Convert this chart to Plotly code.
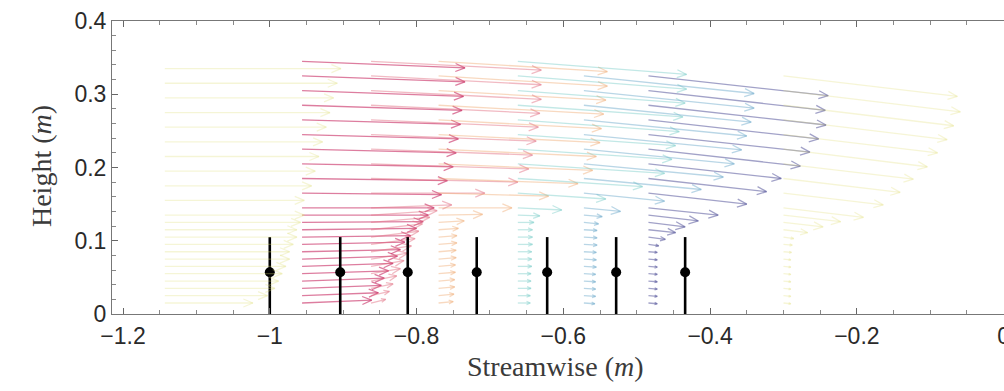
import math
import plotly.graph_objects as go

# Measurement heights of the velocity rakes (m)
heights = [0.015, 0.025, 0.035, 0.045, 0.055, 0.065, 0.075, 0.085, 0.095, 0.105,
           0.115, 0.125, 0.135, 0.145, 0.165, 0.185, 0.205, 0.225, 0.245, 0.265,
           0.285, 0.305, 0.325, 0.345]
heights_upstream = [0.015, 0.025, 0.035, 0.045, 0.055, 0.065, 0.075, 0.085, 0.095,
                    0.105, 0.115, 0.125, 0.135, 0.155, 0.175, 0.195, 0.215, 0.235,
                    0.255, 0.275, 0.295, 0.315, 0.335]

# Streamwise position of each rake (m)
rake_x = [-1.143, -0.956, -0.862, -0.770, -0.662, -0.572, -0.484, -0.300]

# Scaled velocity components (u: streamwise, v: vertical) per rake
u_r0 = [0.12, 0.14, 0.15, 0.155, 0.16, 0.165, 0.17, 0.17, 0.175, 0.18, 0.18, 0.185,
        0.19, 0.19, 0.2, 0.205, 0.21, 0.215, 0.22, 0.225, 0.23, 0.235, 0.24]
v_r0 = [0.0] * 23

u_r1 = [0.095, 0.104, 0.108, 0.112, 0.118, 0.124, 0.13, 0.134, 0.14, 0.148, 0.156,
        0.165, 0.172, 0.18, 0.19, 0.198, 0.206, 0.21, 0.213, 0.216, 0.218, 0.22,
        0.222, 0.222]
v_r1 = [0.004, 0.004, 0.004, 0.004, 0.004, 0.004, 0.004, 0.003, 0.003, 0.002, 0.002,
        0.001, 0.0, 0.0, -0.002, -0.003, -0.004, -0.005, -0.006, -0.006, -0.007,
        -0.008, -0.008, -0.009]

u_r2 = [0.02, 0.025, 0.03, 0.035, 0.04, 0.045, 0.05, 0.055, 0.06, 0.065, 0.07, 0.08,
        0.09, 0.11, 0.155, 0.2, 0.215, 0.22, 0.225, 0.228, 0.23, 0.232, 0.232, 0.232]
v_r2 = [0.005, 0.006, 0.006, 0.007, 0.007, 0.008, 0.008, 0.008, 0.008, 0.008, 0.008,
        0.007, 0.006, 0.004, 0.0, -0.005, -0.007, -0.008, -0.009, -0.01, -0.011,
        -0.012, -0.012, -0.012]

u_r3 = [0.02, 0.021, 0.022, 0.022, 0.023, 0.023, 0.024, 0.024, 0.025, 0.025, 0.027,
        0.035, 0.06, 0.1, 0.15, 0.19, 0.21, 0.215, 0.22, 0.222, 0.225, 0.228, 0.23, 0.23]
v_r3 = [0.002, 0.002, 0.002, 0.002, 0.002, 0.002, 0.002, 0.002, 0.002, 0.002, 0.002,
        0.002, 0.001, 0.0, -0.004, -0.007, -0.009, -0.01, -0.011, -0.012, -0.012,
        -0.013, -0.014, -0.014]

u_r4 = [0.017, 0.017, 0.018, 0.018, 0.018, 0.019, 0.019, 0.019, 0.02, 0.02, 0.02,
        0.022, 0.03, 0.06, 0.12, 0.17, 0.2, 0.21, 0.215, 0.22, 0.225, 0.228, 0.23, 0.23]
v_r4 = [0.0, 0.0, 0.0, 0.0, 0.0, 0.0, 0.0, 0.0, 0.0, 0.0, 0.0, 0.0, -0.001, -0.003,
        -0.008, -0.011, -0.013, -0.014, -0.015, -0.016, -0.016, -0.017, -0.018, -0.018]

u_r5 = [0.015, 0.016, 0.016, 0.016, 0.016, 0.017, 0.017, 0.017, 0.018, 0.018, 0.018,
        0.02, 0.025, 0.05, 0.11, 0.16, 0.19, 0.205, 0.215, 0.222, 0.228, 0.232, 0.232,
        None]
v_r5 = [-0.001, -0.001, -0.001, -0.001, -0.001, -0.001, -0.001, -0.001, -0.001,
        -0.001, -0.001, -0.002, -0.002, -0.005, -0.011, -0.015, -0.018, -0.02, -0.021,
        -0.022, -0.023, -0.024, -0.024, None]

u_r6 = [0.012, 0.012, 0.012, 0.012, 0.012, 0.012, 0.012, 0.012, 0.014, 0.023, 0.037,
        0.05, 0.068, 0.095, 0.134, 0.161, 0.181, 0.207, 0.22, 0.232, 0.242, 0.241,
        0.245, None]
v_r6 = [-0.001, -0.001, -0.001, -0.001, -0.001, -0.001, -0.001, -0.001, -0.002,
        -0.003, -0.004, -0.006, -0.008, -0.01, -0.015, -0.018, -0.02, -0.023, -0.024,
        -0.026, -0.027, -0.027, -0.027, None]

u_r7 = [0.01, 0.01, 0.01, 0.01, 0.01, 0.01, 0.01, 0.011, 0.012, 0.014, 0.033, 0.054,
        0.078, 0.109, 0.136, 0.159, 0.177, 0.196, 0.21, 0.223, 0.232, 0.241, 0.237,
        None]
v_r7 = [-0.001, -0.001, -0.001, -0.001, -0.001, -0.001, -0.001, -0.001, -0.001,
        -0.002, -0.004, -0.006, -0.009, -0.013, -0.016, -0.019, -0.021, -0.024,
        -0.025, -0.027, -0.028, -0.029, -0.028, None]

# Vortex core positions with vertical extent
core_x = [-1.0, -0.904, -0.812, -0.718, -0.622, -0.528, -0.434]
core_y = [0.057, 0.057, 0.057, 0.057, 0.057, 0.057, 0.057]
core_up = [0.048, 0.048, 0.048, 0.048, 0.048, 0.048, 0.048]
core_down = [0.057, 0.057, 0.057, 0.057, 0.057, 0.057, 0.057]

rake_colors = [
    "rgba(222, 222, 120, 0.30)",
    "rgba(200, 45, 100, 0.62)",
    "rgba(226, 110, 130, 0.48)",
    "rgba(238, 165, 105, 0.42)",
    "rgba(110, 200, 195, 0.42)",
    "rgba(100, 165, 200, 0.45)",
    "rgba(85, 85, 155, 0.55)",
    "rgba(224, 222, 120, 0.30)",
]


def quiver_path(x0, ys, us, vs):
    """Shaft plus two-stroke arrowhead for each (u, v) vector at (x0, y)."""
    px, py = [], []
    for y, u, v in zip(ys, us, vs):
        if u is None:
            continue
        x1, y1 = x0 + u, y + v
        length = math.hypot(u, v)
        if length == 0:
            continue
        hl = min(0.3 * length, 0.013)
        hw = 0.42 * hl
        ux, uy = u / length, v / length
        bx, by = x1 - hl * ux, y1 - hl * uy
        nx, ny = -uy, ux
        px += [x0, x1, None, bx + hw * nx, x1, bx - hw * nx, None]
        py += [y, y1, None, by + hw * ny, y1, by - hw * ny, None]
    return px, py


rakes = [
    (heights_upstream, u_r0, v_r0),
    (heights, u_r1, v_r1),
    (heights, u_r2, v_r2),
    (heights, u_r3, v_r3),
    (heights, u_r4, v_r4),
    (heights, u_r5, v_r5),
    (heights, u_r6, v_r6),
    (heights, u_r7, v_r7),
]

fig = go.Figure()


def add_rake(i):
    ys, us, vs = rakes[i]
    px, py = quiver_path(rake_x[i], ys, us, vs)
    fig.add_trace(go.Scatter(x=px, y=py, mode="lines",
                             line=dict(color=rake_colors[i], width=1.3),
                             hoverinfo="skip", showlegend=False))


for i in range(1, len(rakes)):
    add_rake(i)

fig.add_trace(go.Scatter(
    x=core_x, y=core_y, mode="markers",
    marker=dict(color="black", size=10),
    error_y=dict(type="data", symmetric=False, array=core_up, arrayminus=core_down,
                 color="black", thickness=2.6, width=0),
    showlegend=False, hoverinfo="skip"))

add_rake(0)

tick_font = dict(family="Liberation Sans, Arial, sans-serif", size=23, color="#2a2a2a")
title_font = dict(family="Liberation Serif, DejaVu Serif, serif", size=28, color="#3a3a3a")

fig.update_layout(
    width=1004, height=391,
    margin=dict(l=112, r=0, t=21, b=77, autoexpand=False),
    paper_bgcolor="white", plot_bgcolor="white",
    xaxis=dict(range=[-1.215, 0.0005], tickmode="linear", tick0=-1.2, dtick=0.2,
               ticks="inside", ticklen=6, tickcolor="#666", showline=True,
               linecolor="#777", linewidth=1, mirror="allticks", showgrid=False,
               zeroline=False, tickfont=tick_font, ticklabeloverflow="allow",
               automargin=False, ticklabelstandoff=1,
               minor=dict(dtick=0.05, tick0=-1.2, ticks="inside", ticklen=4,
                          tickcolor="#888", showgrid=False)),
    yaxis=dict(range=[0, 0.4], tickmode="linear", tick0=0, dtick=0.1,
               ticks="inside", ticklen=6, tickcolor="#666", showline=True,
               linecolor="#777", linewidth=1, mirror=False, showgrid=False,
               zeroline=False, tickfont=tick_font, tickformat="~g",
               automargin=False,
               minor=dict(dtick=0.02, ticks="inside", ticklen=4, tickcolor="#888",
                          showgrid=False)),
    annotations=[
        dict(text="Streamwise (<i>m</i>)", xref="paper", yref="paper",
             x=0.497, y=-0.178, xanchor="center", yanchor="middle",
             showarrow=False, font=title_font),
        dict(text="Height (<i>m</i>)", xref="paper", yref="paper",
             x=-0.0796, y=0.505, xanchor="center", yanchor="middle",
             textangle=-90, showarrow=False, font=title_font),
    ],
)

fig.write_html("out.html")
